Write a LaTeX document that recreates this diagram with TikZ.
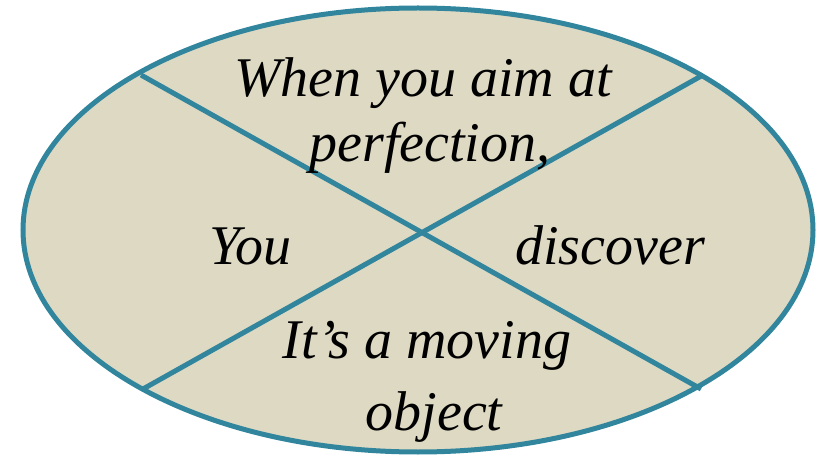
\documentclass[tikz,border=0pt]{standalone}
\usepackage{fontspec}
\setmainfont{Liberation Serif}
\definecolor{tanfill}{HTML}{DDD9C3}
\definecolor{tealline}{HTML}{31859C}
\begin{document}
\begin{tikzpicture}[x=1pt,y=-1pt,
  lbl/.style={anchor=base,inner sep=0pt,font=\fontsize{56}{64}\selectfont\itshape},
  rim/.style={draw=tealline,line width=5pt}]
\useasboundingbox (0,0) rectangle (817,457);
\filldraw[rim,fill=tanfill] (418,230) ellipse [x radius=395,y radius=222];
\coordinate (tl) at (141,75);
\coordinate (tr) at (703,75);
\coordinate (bl) at (143,389);
\coordinate (br) at (701,389);
\draw[rim] (tl) -- (br);
\draw[rim] (bl) -- (tr);
\node[lbl] (t1) at (423,97) {When you aim at};
\node[lbl] (t2) at (430,162) {perfection,};
\node[lbl] (you) at (250,265) {You};
\node[lbl] (disc) at (610,265) {discover};
\node[lbl] (b1) at (427,358) {It’s a moving};
\node[lbl] (b2) at (434,430) {object};
\end{tikzpicture}
\end{document}
